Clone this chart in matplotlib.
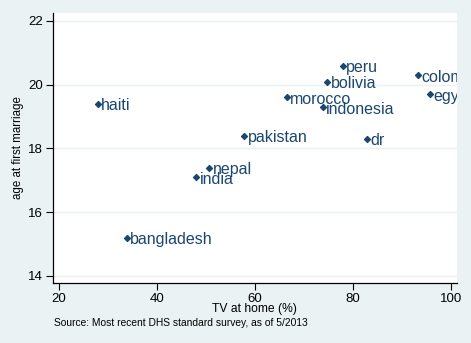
import matplotlib
import matplotlib.pyplot as plt

matplotlib.use("Agg")
plt.rcParams["font.family"] = ["Liberation Sans", "DejaVu Sans"]

countries = ["haiti", "bangladesh", "india", "nepal", "pakistan", "morocco",
             "indonesia", "bolivia", "peru", "dr", "colombia", "egypt"]
tv_at_home = [27.9, 33.8, 48.0, 50.6, 57.8, 66.5, 73.8, 74.7, 77.9, 82.9, 93.2, 95.7]
age_first_marriage = [19.4, 15.2, 17.1, 17.4, 18.4, 19.6, 19.3, 20.1, 20.6, 18.3, 20.3, 19.7]

x_ticks = [20, 40, 60, 80, 100]
y_ticks = [14, 16, 18, 20, 22]

navy = "#1a476f"
bg = "#eaf2f3"

fig = plt.figure(figsize=(4.71, 3.43), dpi=100, facecolor=bg)
ax = fig.add_axes([52.5 / 471, 1 - 283 / 343, (457 - 52.5) / 471, (283 - 13) / 343])
ax.set_facecolor("white")

ax.scatter(tv_at_home, age_first_marriage, marker="D", s=9, color=navy, zorder=3)
for name, x, y in zip(countries, tv_at_home, age_first_marriage):
    ax.annotate(name, (x, y), xytext=(2.5, -1.5), textcoords="offset points",
                ha="left", va="center", fontsize=11.5, color=navy,
                annotation_clip=False, clip_on=True)

ax.set_xlim(18.67, 101.2)
ax.set_ylim(13.78, 22.25)
ax.set_xticks(x_ticks)
ax.set_yticks(y_ticks)
ax.tick_params(labelsize=9.5, length=5, width=0.8, color="black", pad=2)
ax.grid(axis="y", color=bg, linewidth=1)
ax.set_axisbelow(True)
for side in ["top", "right"]:
    ax.spines[side].set_visible(False)
for side in ["left", "bottom"]:
    ax.spines[side].set_color("black")
    ax.spines[side].set_linewidth(0.9)

ax.set_xlabel("TV at home (%)", fontsize=8.7, labelpad=-1)
ax.set_ylabel("age at first marriage", fontsize=8.3, labelpad=3)
fig.text(54 / 471, 1 - 323 / 343, "Source: Most recent DHS standard survey, as of 5/2013",
         fontsize=7.4, va="center", ha="left")

fig.savefig("out.png", dpi=100, facecolor=bg)
